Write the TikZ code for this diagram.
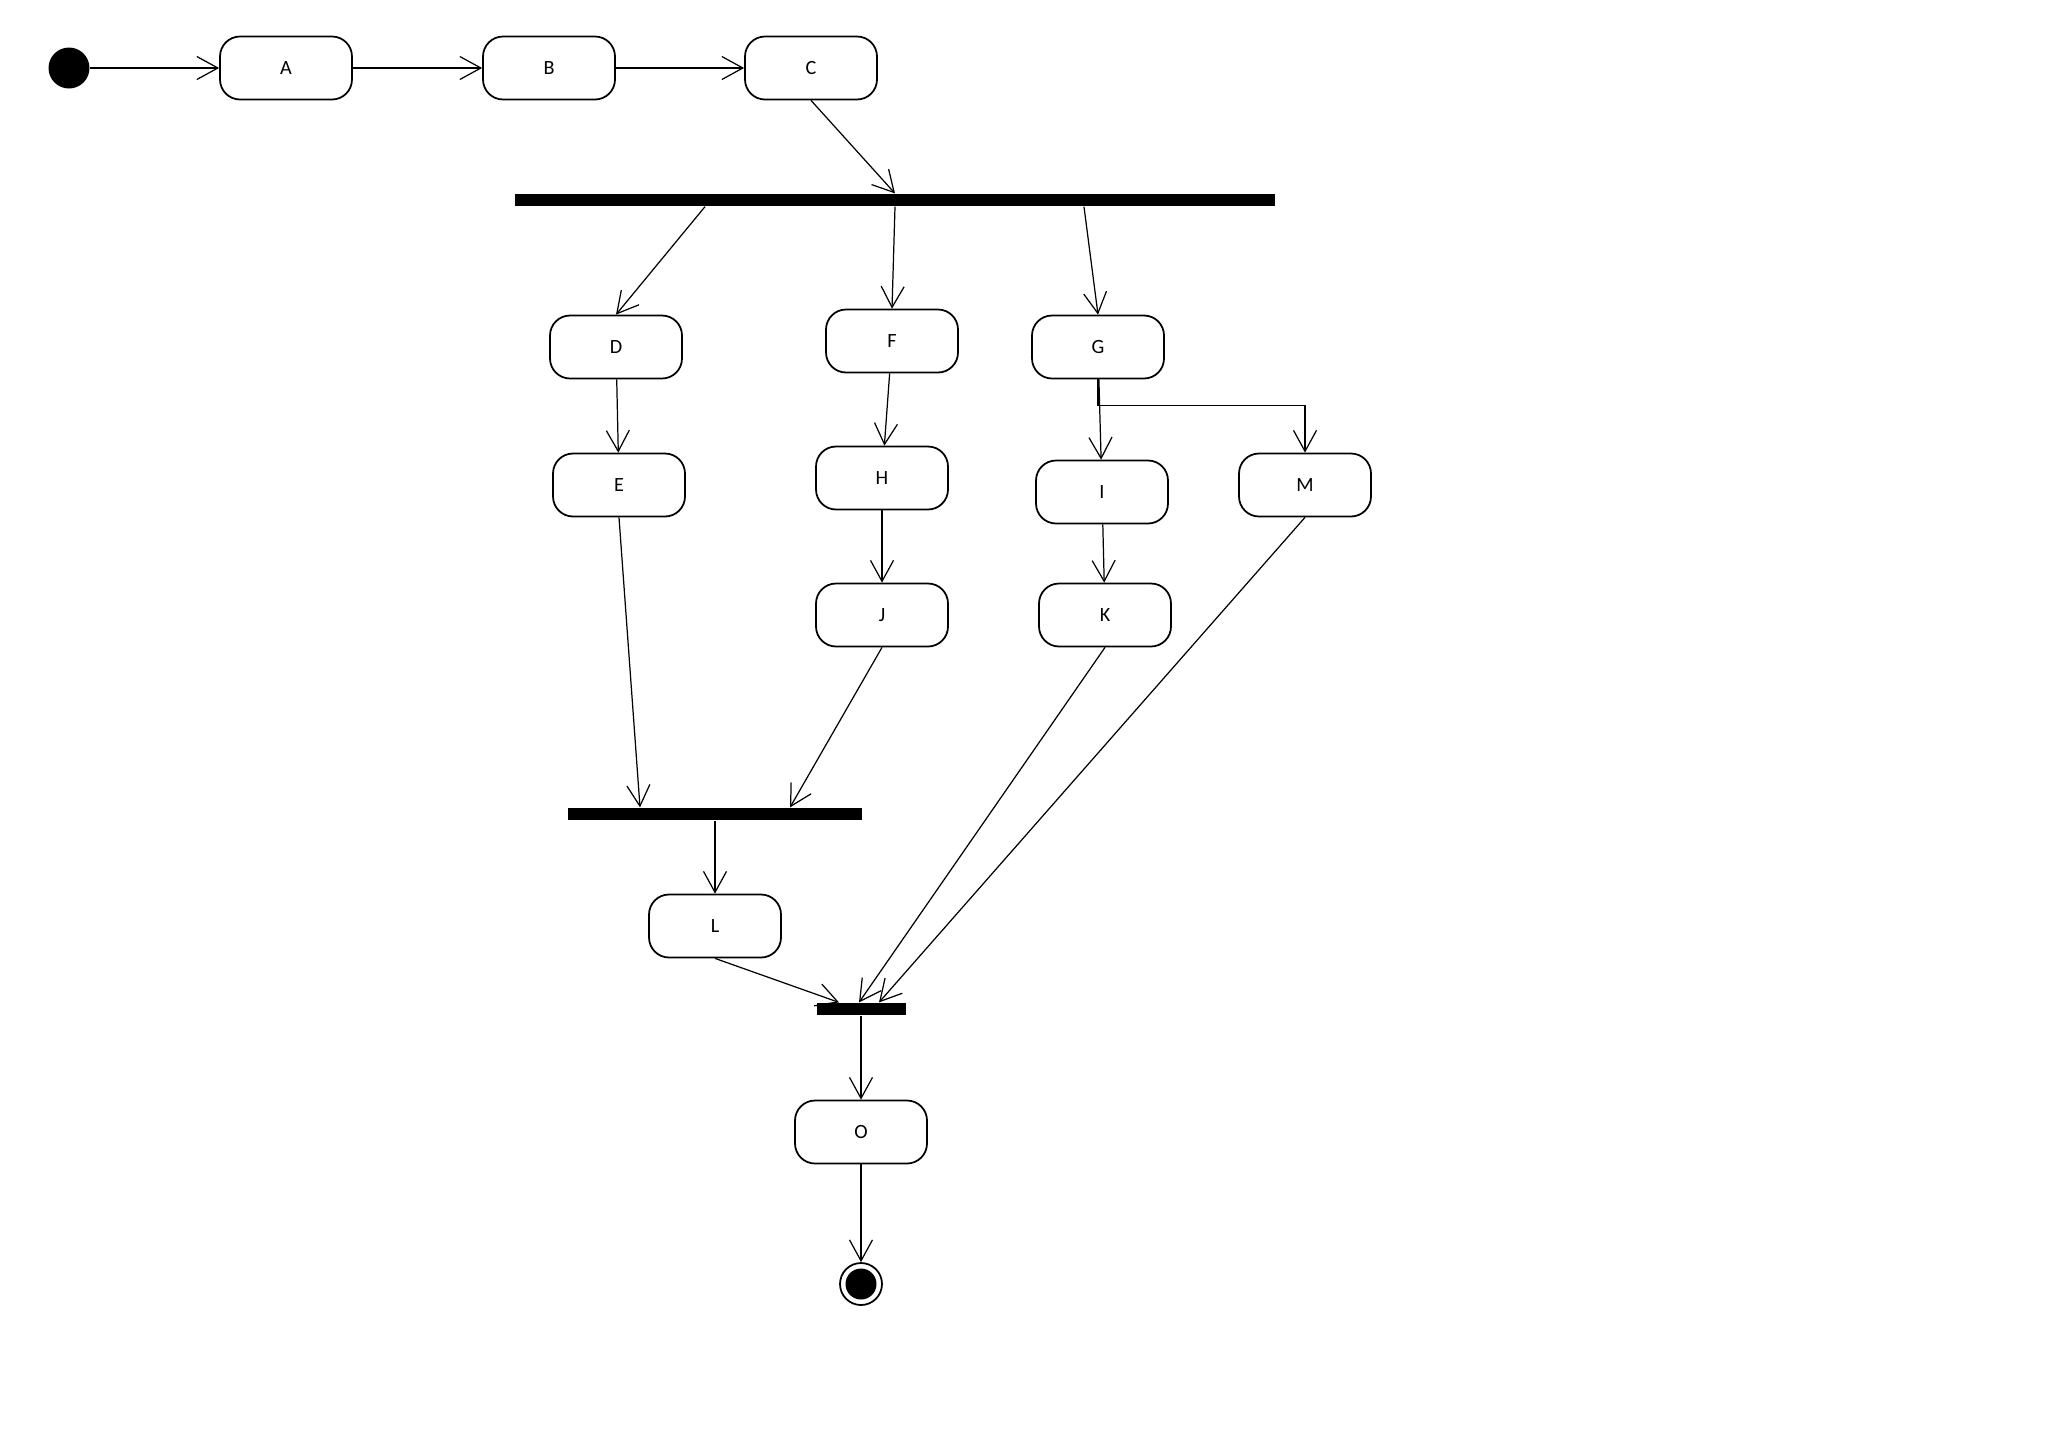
\documentclass[tikz,border=0pt]{standalone}
\usepackage{fontspec}
\setmainfont{Carlito}
\usetikzlibrary{arrows.meta}

\begin{document}
\begin{tikzpicture}[
  x=0.02cm, y=-0.02cm,
  font=\fontsize{11.5}{13}\selectfont,
  state/.style={draw, rounded corners=0.4cm, line width=1pt, minimum width=2.64cm, minimum height=1.26cm, inner sep=0pt},
  bar/.style={fill=black, inner sep=0pt, minimum height=0.25cm},
  initst/.style={circle, fill=black, minimum size=0.82cm, inner sep=0pt},
  endst/.style={circle, draw, line width=1pt, minimum size=0.84cm, inner sep=0pt,
    path picture={\fill (path picture bounding box.center) circle (0.31cm);}},
  arr/.style={-{Straight Barb[length=0.42cm, width=0.46cm]}, line width=0.7pt}
]
\useasboundingbox (0,0) rectangle (2048,1448);

\node[initst] (init) at (69,68) {};
\node[state] (A) at (286,68) {A};
\node[state] (B) at (549,68) {B};
\node[state] (C) at (811,68) {C};

\node[bar, minimum width=15.2cm] (fork) at (895,200) {};

\node[state] (D) at (616,347) {D};
\node[state] (F) at (892,341) {F};
\node[state] (G) at (1098,347) {G};
\node[state] (E) at (619,485) {E};
\node[state] (H) at (882,478) {H};
\node[state] (I) at (1102,492) {I};
\node[state] (M) at (1305,485) {M};
\node[state] (J) at (882,615) {J};
\node[state] (K) at (1105,615) {K};

\node[bar, minimum width=5.9cm] (join) at (715,814) {};
\node[state] (L) at (715,926) {L};
\node[bar, minimum width=1.78cm] (merge) at (861,1009) {};
\node[state] (O) at (861,1132) {O};
\node[endst] (final) at (861,1284) {};

\draw[arr] (init) -- (A);
\draw[arr] (A) -- (B);
\draw[arr] (B) -- (C);
\draw[arr] (C.south) -- (fork.north);
\draw[arr] ([xshift=-3.8cm]fork.south) -- (D.north);
\draw[arr] (fork.south) -- (F.north);
\draw[arr] ([xshift=3.78cm]fork.south) -- (G.north);
\draw[arr] (D) -- (E);
\draw[arr] (F) -- (H);
\draw[arr] (G) -- (I);
\draw[arr] (G.south) -- ++(0,26) -| (M.north);
\draw[arr] (H) -- (J);
\draw[arr] (I) -- (K);
\draw[arr] (E.south) -- ([xshift=-1.5cm]join.north);
\draw[arr] (J.south) -- ([xshift=1.5cm]join.north);
\draw[arr] (join.south) -- (L.north);
\draw[arr] (L.south) -- ([xshift=-0.44cm]merge.north);
\draw[arr] (K.south) -- ([xshift=-0.04cm]merge.north);
\draw[arr] (M.south) -- ([xshift=0.36cm]merge.north);
\draw[arr] (merge.south) -- (O.north);
\draw[arr] (O.south) -- (final.north);
\end{tikzpicture}
\end{document}
